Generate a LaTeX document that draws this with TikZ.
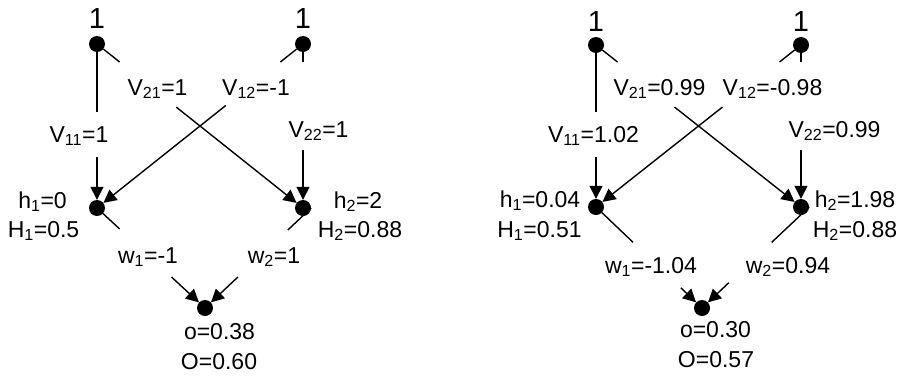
\documentclass[tikz,border=0pt]{standalone}
\usepackage{fontspec}
\setmainfont{Liberation Sans}
\usetikzlibrary{arrows.meta,calc}
\begin{document}
\begin{tikzpicture}[x=1pt,y=-1pt,
  dot/.style={circle,fill=black,inner sep=0pt,minimum size=16pt},
  lbl/.style={font=\fontsize{23}{27}\selectfont,inner sep=0pt,anchor=base},
  one/.style={font=\fontsize{29}{33}\selectfont,inner sep=0pt,anchor=base},
  wire/.style={line width=1.4pt},
  arr/.style={wire,-{Triangle[length=13pt,width=13pt]}}]
\useasboundingbox (0,0) rectangle (907,375);

%% ---------------- left network ----------------
\node[dot] (Li1) at (97,44) {};
\node[dot] (Li2) at (303,44) {};
\node[dot] (Lh1) at (97,208) {};
\node[dot] (Lh2) at (303,208) {};
\node[dot] (Lo)  at (205,308) {};

\node[one] (Lt1) at (97,28) {1};
\node[one] (Lt2) at (303,28) {1};

\node[lbl] (LV21) at (157.5,95) {V\textsubscript{21}=1};
\node[lbl] (LV12) at (256,95) {V\textsubscript{12}=-1};
\node[lbl] (LV11) at (79,142) {V\textsubscript{11}=1};
\node[lbl] (LV22) at (318.5,137) {V\textsubscript{22}=1};
\node[lbl] (Lh1a) at (42.5,208) {h\textsubscript{1}=0};
\node[lbl] (Lh1b) at (43.5,237) {H\textsubscript{1}=0.5};
\node[lbl] (Lh2a) at (358,208) {h\textsubscript{2}=2};
\node[lbl] (Lh2b) at (360,237) {H\textsubscript{2}=0.88};
\node[lbl] (Lw1) at (148,263) {w\textsubscript{1}=-1};
\node[lbl] (Lw2) at (274,263) {w\textsubscript{2}=1};
\node[lbl] (Loa) at (219.5,339) {o=0.38};
\node[lbl] (Lob) at (219,369) {O=0.60};

\coordinate (La11) at (97,112);
\coordinate (Lb11) at (97,157);
\coordinate (La22) at (303,62);
\coordinate (Lb22) at (303,150);
\coordinate (La21) at ($(Li1)!0.11!(Lh2)$);
\coordinate (Lb21) at ($(Li1)!0.385!(Lh2)$);
\coordinate (La12) at ($(Li2)!0.11!(Lh1)$);
\coordinate (Lb12) at ($(Li2)!0.375!(Lh1)$);
\coordinate (Law1) at ($(Lh1)!0.21!(Lo)$);
\coordinate (Lbw1) at ($(Lh1)!0.69!(Lo)$);
\coordinate (Law2) at ($(Lh2.east)!0.22!(Lo)$);
\coordinate (Lbw2) at ($(Lh2.east)!0.69!(Lo)$);

\draw[wire] (Li1) -- (La11);  \draw[arr] (Lb11) -- (Lh1);
\draw[wire] (Li2) -- (La22);  \draw[arr] (Lb22) -- (Lh2);
\draw[wire] (Li1) -- (La21);  \draw[arr] (Lb21) -- (Lh2);
\draw[wire] (Li2) -- (La12);  \draw[arr] (Lb12) -- (Lh1);
\draw[wire] (Lh1) -- (Law1);  \draw[arr] (Lbw1) -- (Lo);
\draw[wire] (Lh2.east) -- (Law2);  \draw[arr] (Lbw2) -- (Lo);

%% ---------------- right network ----------------
\node[dot] (Ri1) at (596,45) {};
\node[dot] (Ri2) at (801,45) {};
\node[dot] (Rh1) at (596,207) {};
\node[dot] (Rh2) at (801,207) {};
\node[dot] (Ro)  at (702,308) {};

\node[one] (Rt1) at (596,31) {1};
\node[one] (Rt2) at (801,31) {1};

\node[lbl] (RV21) at (659.5,95) {V\textsubscript{21}=0.99};
\node[lbl] (RV12) at (772.5,95) {V\textsubscript{12}=-0.98};
\node[lbl] (RV11) at (593.5,142) {V\textsubscript{11}=1.02};
\node[lbl] (RV22) at (834.5,137) {V\textsubscript{22}=0.99};
\node[lbl] (Rh1a) at (540,207) {h\textsubscript{1}=0.04};
\node[lbl] (Rh1b) at (539.5,237) {H\textsubscript{1}=0.51};
\node[lbl] (Rh2a) at (855,207) {h\textsubscript{2}=1.98};
\node[lbl] (Rh2b) at (855,237) {H\textsubscript{2}=0.88};
\node[lbl] (Rw1) at (651,273) {w\textsubscript{1}=-1.04};
\node[lbl] (Rw2) at (788,273) {w\textsubscript{2}=0.94};
\node[lbl] (Roa) at (715.5,337) {o=0.30};
\node[lbl] (Rob) at (716,367) {O=0.57};

\coordinate (Ra11) at (596,112);
\coordinate (Rb11) at (596,157);
\coordinate (Ra22) at (801,62);
\coordinate (Rb22) at (801,150);
\coordinate (Ra21) at ($(Ri1)!0.105!(Rh2)$);
\coordinate (Rb21) at ($(Ri1)!0.383!(Rh2)$);
\coordinate (Ra12) at ($(Ri2)!0.105!(Rh1)$);
\coordinate (Rb12) at ($(Ri2)!0.383!(Rh1)$);
\coordinate (Raw1) at ($(Rh1)!0.35!(Ro)$);
\coordinate (Rbw1) at ($(Rh1)!0.8!(Ro)$);
\coordinate (Raw2) at ($(Rh2.east)!0.35!(Ro)$);
\coordinate (Rbw2) at ($(Rh2.east)!0.75!(Ro)$);

\draw[wire] (Ri1) -- (Ra11);  \draw[arr] (Rb11) -- (Rh1);
\draw[wire] (Ri2) -- (Ra22);  \draw[arr] (Rb22) -- (Rh2);
\draw[wire] (Ri1) -- (Ra21);  \draw[arr] (Rb21) -- (Rh2);
\draw[wire] (Ri2) -- (Ra12);  \draw[arr] (Rb12) -- (Rh1);
\draw[wire] (Rh1) -- (Raw1);  \draw[arr] (Rbw1) -- (Ro);
\draw[wire] (Rh2.east) -- (Raw2);  \draw[arr] (Rbw2) -- (Ro);
\end{tikzpicture}
\end{document}
